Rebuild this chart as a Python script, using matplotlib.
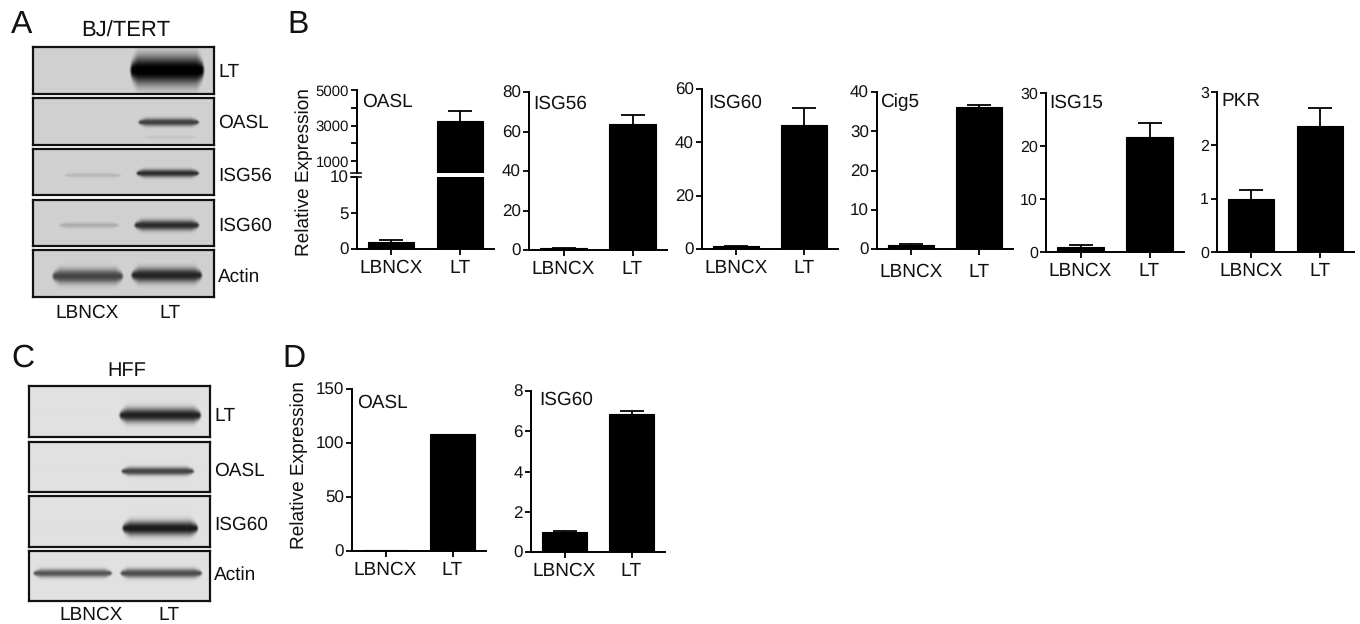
import numpy as np
import matplotlib
matplotlib.use("Agg")
import matplotlib.pyplot as plt

W, H = 1360, 624
plt.rcParams['font.family'] = ['Liberation Sans', 'DejaVu Sans']
plt.rcParams['axes.linewidth'] = 1.4
plt.rcParams['text.hinting'] = 'no_hinting'
plt.rcParams['text.hinting_factor'] = 1

groups = ["LBNCX", "LT"]

# panel B values
oasl_mean = [1.0, 3280]
oasl_err = [0.3, 520]
isg56_mean = [1.0, 64]
isg56_err = [0.1, 4.3]
isg60_mean = [1.0, 46.5]
isg60_err = [0.1, 6.2]
cig5_mean = [1.0, 36.2]
cig5_err = [0.15, 0.6]
isg15_mean = [1.0, 21.7]
isg15_err = [0.4, 2.7]
pkr_mean = [1.0, 2.36]
pkr_err = [0.17, 0.34]

# panel D values
d_oasl_mean = [1.0, 108.5]
d_oasl_err = [0, 0]
d_isg60_mean = [1.0, 6.85]
d_isg60_err = [0.05, 0.15]

# blot names and how dark each band is (LBNCX, LT)
blot_a_names = ["LT", "OASL", "ISG56", "ISG60", "Actin"]
blot_a_dark = [[0, 0.85], [0, 0.58], [0.10, 0.65], [0.14, 0.65], [0.55, 0.68]]
blot_c_names = ["LT", "OASL", "ISG60", "Actin"]
blot_c_dark = [[0, 0.75], [0, 0.62], [0, 0.78], [0.55, 0.58]]


def px_axes(x0, y0, x1, y1):
    return plt.gcf().add_axes([x0 / W, 1 - y1 / H, (x1 - x0) / W, (y1 - y0) / H])


def px_text(x, y, s, size=14, ha='left', **kw):
    plt.gcf().text(x / W, 1 - y / H, s, fontsize=size, ha=ha, va='baseline', color='#111111', **kw)


def style(ax):
    ax.spines['top'].set_visible(False)
    ax.spines['right'].set_visible(False)
    ax.tick_params(length=4.4, width=1.4, color='#111111', labelcolor='#111111')
    ax.set_xlim(-0.5, 1.5)
    ax.patch.set_alpha(0)


def bars(ax, mean, err):
    ax.bar([0, 1], mean, width=0.67, color='black', edgecolor='black', linewidth=0.8)
    for i in [0, 1]:
        if err[i] > 0:
            line, caps, _ = ax.errorbar(i, mean[i], yerr=[[0], [err[i]]], fmt='none', ecolor='black',
                                        elinewidth=1.3, capsize=8.6, capthick=1.3)
            caps[0].set_visible(False)


def bar_panel(box, mean, err, top, ticks, name, name_xy, pad=3, size=12.3):
    ax = px_axes(*box)
    style(ax)
    bars(ax, mean, err)
    ax.set_ylim(0, top)
    ax.set_yticks(ticks)
    ax.tick_params(axis='y', labelsize=size, pad=1.5)
    ax.set_xticks([0, 1], groups, fontsize=13.8)
    ax.tick_params(axis='x', pad=pad)
    px_text(name_xy[0], name_xy[1], name)
    return ax


def blot(box, bands, bg):
    # bands: x0, x1, y centre, half height, darkness in figure pixels
    x0, y0, x1, y1 = box
    ax = px_axes(x0, y0, x1, y1)
    xx, yy = np.meshgrid(np.arange(x0, x1, 0.5), np.arange(y0, y1, 0.5))
    img = np.full(xx.shape, bg, dtype=float)
    for bx0, bx1, yc, hh, dark in bands:
        edge = np.clip((xx - bx0) / 9, 0.001, 1) * np.clip((bx1 - xx) / 9, 0.001, 1)
        taper = np.sqrt(edge)
        img -= dark * np.minimum(1, edge * 3) * np.exp(-np.abs((yy - yc) / (hh * taper)) ** 2.2)
    ax.imshow(np.clip(img, 0, 1), cmap='gray', vmin=0, vmax=1, aspect='auto',
              extent=(x0, x1, y1, y0), interpolation='bilinear')
    ax.set_xticks([])
    ax.set_yticks([])
    for s in ax.spines.values():
        s.set_linewidth(1.6)
        s.set_color('#111111')


fig = plt.figure(figsize=(W / 100, H / 100), dpi=100, facecolor='white')

# A
a_rows = [(47, 94), (98, 145), (149, 195), (200, 246), (250, 297)]
a_bands = [
    [(129, 205, 70, 14, blot_a_dark[0][1])],
    [(137, 200, 122, 3.8, blot_a_dark[1][1]), (143, 197, 137, 2, 0.05)],
    [(63, 122, 175, 2.2, blot_a_dark[2][0]), (135, 200, 173, 3.8, blot_a_dark[2][1])],
    [(58, 120, 225, 2.8, blot_a_dark[3][0]), (133, 200, 225, 5, blot_a_dark[3][1])],
    [(51, 124, 276, 7, blot_a_dark[4][0]), (130, 203, 275, 7, blot_a_dark[4][1])],
]
a_base = [77, 128, 181, 231, 282]
for r, b, n, y in zip(a_rows, a_bands, blot_a_names, a_base):
    blot((33, r[0], 214, r[1]), b, 0.82)
    px_text(218, y, n, 13.8)
px_text(87, 318, groups[0], ha='center')
px_text(170, 318, groups[1], ha='center')
px_text(126, 37, "BJ/TERT", 15.6, ha='center')
px_text(11, 33, "A", 23.4)

# C
c_rows = [(386, 437), (442, 492), (496, 547), (551, 601)]
c_bands = [
    [(118, 202, 415, 7, blot_c_dark[0][1])],
    [(120, 195, 471, 4, blot_c_dark[1][1])],
    [(121, 199, 528, 7, blot_c_dark[2][1])],
    [(32, 113, 573, 4, blot_c_dark[3][0]), (119, 203, 573, 4.5, blot_c_dark[3][1])],
]
c_base = [421, 476, 530, 580]
for r, b, n, y in zip(c_rows, c_bands, blot_c_names, c_base):
    blot((29, r[0], 210, r[1]), b, 0.88)
    px_text(214, y, n, 13.8)
px_text(91, 620, groups[0], ha='center')
px_text(169, 620, groups[1], ha='center')
px_text(127, 376, "HFF", 14.6, ha='center')
px_text(11, 367, "C", 23.4)

# B, OASL has a broken axis
low = px_axes(357, 177, 494, 249)
style(low)
bars(low, oasl_mean, oasl_err)
low.set_ylim(0, 10)
low.set_yticks([0, 5, 10])
low.tick_params(axis='y', labelsize=12.3, pad=1.5)
low.set_xticks([0, 1], groups, fontsize=13.8)
low.tick_params(axis='x', pad=3)

up = px_axes(357, 90, 494, 173)
style(up)
up.spines['bottom'].set_visible(False)
bars(up, oasl_mean, oasl_err)
up.set_ylim(340, 5000)
up.set_yticks([1000, 3000, 5000], ["1000", "3000", "5000"])
up.set_yticks([2000, 4000], minor=True)
up.tick_params(axis='y', which='both', length=4.4, width=1.4, color='#111111')
up.tick_params(axis='y', labelsize=11, pad=1.5)
up.set_xticks([])
fig.add_artist(plt.Line2D([351 / W, 361 / W], [1 - 173 / H] * 2, color='#111111', lw=1.2))
fig.add_artist(plt.Line2D([351 / W, 361 / W], [1 - 177 / H] * 2, color='#111111', lw=1.2))
px_text(362, 107, "OASL")

bar_panel((529, 92, 667, 250), isg56_mean, isg56_err, 80, [0, 20, 40, 60, 80], "ISG56", (533, 109))
bar_panel((702, 89, 838, 249), isg60_mean, isg60_err, 60, [0, 20, 40, 60], "ISG60", (708, 108))
bar_panel((877, 92, 1013, 249), cig5_mean, cig5_err, 40, [0, 10, 20, 30, 40], "Cig5", (880, 107), pad=5.5)
bar_panel((1046, 93, 1184, 252), isg15_mean, isg15_err, 30, [0, 10, 20, 30], "ISG15", (1049, 108), size=11.5)
bar_panel((1217, 92, 1354, 252), pkr_mean, pkr_err, 3, [0, 1, 2, 3], "PKR", (1221, 106), size=11.5)
px_text(309, 172, "Relative Expression", 13.9, ha='center', rotation=90, rotation_mode='anchor')
px_text(287, 33, "B", 23.4)

# D
bar_panel((352, 389, 486, 551), d_oasl_mean, d_oasl_err, 150, [0, 50, 100, 150], "OASL", (357, 408))
bar_panel((531, 391, 665, 552), d_isg60_mean, d_isg60_err, 8, [0, 2, 4, 6, 8], "ISG60", (539, 405))
px_text(304, 465, "Relative Expression", 13.9, ha='center', rotation=90, rotation_mode='anchor')
px_text(282, 367, "D", 23.4)

plt.savefig('out.png', dpi=100)
plt.close()
